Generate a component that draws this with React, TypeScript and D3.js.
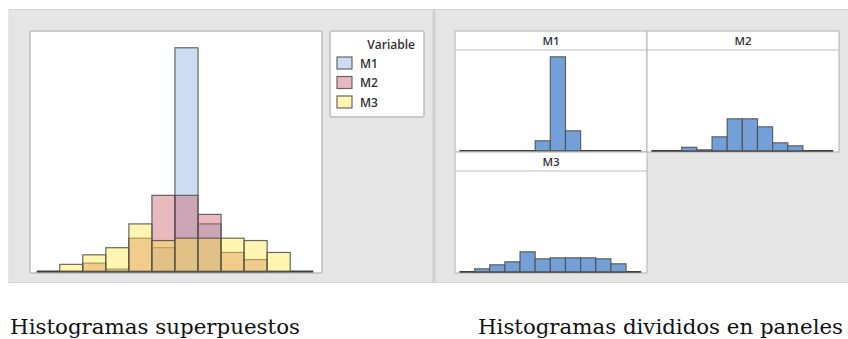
import React from "react";
import * as d3 from "d3";

// Twelve equal-width bins shared by every histogram (bin i spans [i, i+1]).
const binIndex = d3.range(12);
const seriesNames = ["M1", "M2", "M3"];
const m1Counts = [0, 0, 0, 0, 0, 10, 94, 20, 0, 0, 0, 0];
const m2Counts = [0, 0, 3.5, 1, 14, 32, 32, 24, 8, 5, 0, 0];
const m3Counts = [0, 3, 7, 10, 20, 13, 14, 14, 14, 13, 8, 0];
const legendTitle = "Variable";
const captionLeft = "Histogramas superpuestos";
const captionRight = "Histogramas divididos en paneles";

const seriesCounts = [m1Counts, m2Counts, m3Counts];
const overlayFill = ["rgb(144,178,222)", "rgb(204,100,111)", "rgb(255,230,67)"];
const overlayOpacity = [0.45, 0.45, 0.42];
const panelFill = "#74a0d8";
const barStroke = "#4d4d4d";
const uiFont = "'Open Sans', 'DejaVu Sans', sans-serif";
const captionFont = "'DejaVu Serif', 'Liberation Serif', serif";

const xDomain: [number, number] = [-0.29, 12.38];
const yDomain: [number, number] = [0, 100];

type HistProps = {
  counts: number[];
  x: d3.ScaleLinear<number, number>;
  y: d3.ScaleLinear<number, number>;
  fill: string;
  opacity?: number;
};

function Bars({ counts, x, y, fill, opacity = 1 }: HistProps) {
  const base = y(0);
  return (
    <g>
      {binIndex.map((i) =>
        counts[i] > 0 ? (
          <rect
            key={i}
            x={x(i)}
            y={y(counts[i])}
            width={x(i + 1) - x(i)}
            height={base - y(counts[i])}
            fill={fill}
            fillOpacity={opacity}
            stroke={barStroke}
            strokeOpacity={0.85}
            strokeWidth={1.2}
          />
        ) : null
      )}
    </g>
  );
}

function Baseline({ x, y }: { x: d3.ScaleLinear<number, number>; y: d3.ScaleLinear<number, number> }) {
  return (
    <line
      x1={x(0)}
      x2={x(binIndex.length)}
      y1={y(0)}
      y2={y(0)}
      stroke="#3f3f3f"
      strokeWidth={1.8}
    />
  );
}

type PanelProps = { name: string; counts: number[]; x0: number; y0: number };

// One facet: title strip on top, white plotting area below.
function Facet({ name, counts, x0, y0 }: PanelProps) {
  const w = 192;
  const stripH = 19;
  const plotH = 102;
  const x = d3.scaleLinear().domain(xDomain).range([x0, x0 + w]);
  const y = d3
    .scaleLinear()
    .domain(yDomain)
    .range([y0 + stripH + plotH - 1.2, y0 + stripH + plotH - 1.2 - 100]);
  return (
    <g>
      <rect x={x0} y={y0} width={w} height={stripH + plotH} fill="#ffffff" stroke="#bdbdbd" strokeWidth={1.2} />
      <line x1={x0} x2={x0 + w} y1={y0 + stripH} y2={y0 + stripH} stroke="#bdbdbd" strokeWidth={1.2} />
      <text
        x={x0 + w / 2}
        y={y0 + stripH / 2 + 4}
        textAnchor="middle"
        fontFamily={uiFont}
        fontSize={11.5}
        fontWeight={600}
        fill="#333"
      >
        {name}
      </text>
      <Baseline x={x} y={y} />
      <Bars counts={counts} x={x} y={y} fill={panelFill} />
    </g>
  );
}

export default function App() {
  // Overlaid histogram area
  const ox = d3.scaleLinear().domain(xDomain).range([30, 322]);
  const oy = d3.scaleLinear().domain(yDomain).range([271.5, 33.5]);

  const legendX = 330;
  const legendY = 31;

  return (
    <svg
      width={848}
      height={339}
      viewBox="0 0 848 339"
      style={{ position: "absolute", left: 0, top: 0, background: "#ffffff" }}
    >
      {/* grey chart backgrounds */}
      <rect x={9} y={9.5} width={840} height={273} fill="#e5e5e5" stroke="#d6d6d6" strokeWidth={1} />
      <rect x={432.5} y={9.5} width={3} height={273} fill="#d0d0d0" />

      {/* overlaid histograms */}
      <rect x={30} y={31} width={292} height={242} rx={2} fill="#ffffff" stroke="#bcbcbc" strokeWidth={1.5} />
      <Baseline x={ox} y={oy} />
      {seriesCounts.map((c, k) => (
        <Bars key={k} counts={c} x={ox} y={oy} fill={overlayFill[k]} opacity={overlayOpacity[k]} />
      ))}

      {/* legend */}
      <rect x={legendX} y={legendY} width={94} height={86} rx={2} fill="#ffffff" stroke="#bcbcbc" strokeWidth={1.5} />
      <text
        x={legendX + 85}
        y={legendY + 18}
        textAnchor="end"
        fontFamily={uiFont}
        fontSize={12}
        fontWeight={600}
        fill="#333"
      >
        {legendTitle}
      </text>
      {seriesNames.map((n, k) => (
        <g key={n} transform={`translate(${legendX + 7},${legendY + 26 + k * 19.5})`}>
          <rect x={0} y={0} width={15} height={12} fill="#ffffff" />
          <rect
            x={0}
            y={0}
            width={15}
            height={12}
            fill={overlayFill[k]}
            fillOpacity={overlayOpacity[k]}
            stroke={barStroke}
            strokeOpacity={0.85}
            strokeWidth={1.2}
          />
          <text x={23} y={10.5} fontFamily={uiFont} fontSize={12} fontWeight={600} fill="#333">
            {n}
          </text>
        </g>
      ))}

      {/* paneled histograms */}
      <Facet name={seriesNames[0]} counts={m1Counts} x0={455} y0={31} />
      <Facet name={seriesNames[1]} counts={m2Counts} x0={647} y0={31} />
      <Facet name={seriesNames[2]} counts={m3Counts} x0={455} y0={152} />

      {/* captions */}
      <text
        x={10}
        y={334}
        fontFamily={captionFont}
        fontSize={21}
        fill="#111"
        textLength={290}
        lengthAdjust="spacingAndGlyphs"
      >
        {captionLeft}
      </text>
      <text
        x={478}
        y={334}
        fontFamily={captionFont}
        fontSize={21}
        fill="#111"
        textLength={365}
        lengthAdjust="spacingAndGlyphs"
      >
        {captionRight}
      </text>
    </svg>
  );
}
